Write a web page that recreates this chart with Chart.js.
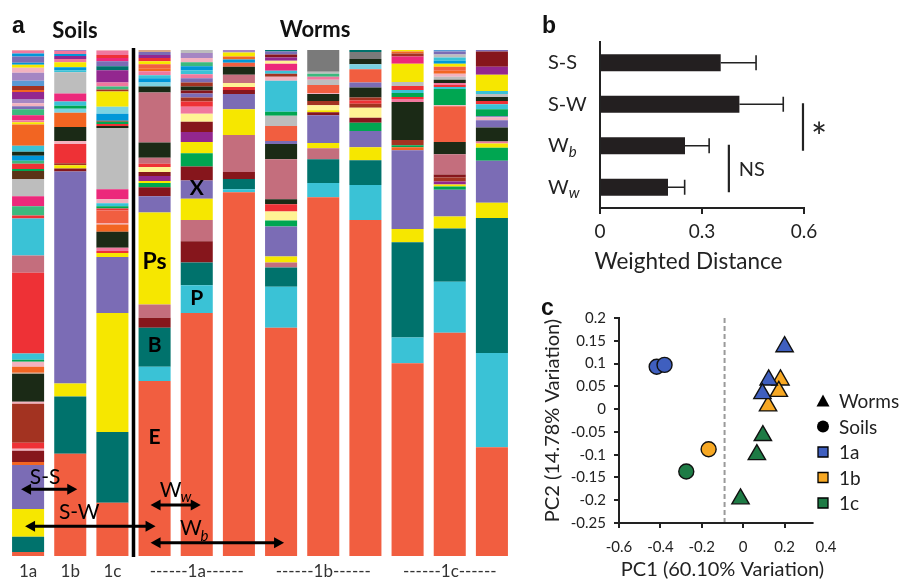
<!DOCTYPE html>
<html>
<head>
<meta charset="utf-8">
<script src="https://cdn.jsdelivr.net/npm/chart.js@4.4.1/dist/chart.umd.min.js"></script>
<style>
  html,body{margin:0;padding:0;background:#fff;}
  body{width:903px;height:579px;position:relative;overflow:hidden;}
  canvas{position:absolute;}
</style>
</head>
<body>
<canvas id="cA" width="520" height="579" style="left:0;top:0"></canvas>
<canvas id="cB" width="383" height="290" style="left:520px;top:0"></canvas>
<canvas id="cC" width="383" height="289" style="left:520px;top:290px"></canvas>
<script>
// ---------------- DATA ----------------
// Panel a: relative abundance (%) per sample, listed from bottom to top as [taxon, %]
const sampleLabels = ['1a','1b','1c','','------1a------','','','------1b------','','','------1c------',''];

const soil1a = [['E',0.8],['B',3.0],['Ps',5.5],['X',8.7],['org',0.6],['mar',2.2],['lpk',0.4],['red',1.2],['brn',7.7],['lpk',0.4],['dk',5.5],['tan',0.2],['org',1.2],['lpk',1.0],['grn',0.4],['P',1.2],['red',16.0],['mau',3.4],['P',7.3],['red',0.6],['mgn',1.8],['mag',2.0],['gry',3.4],['dbr',1.6],['grn',0.4],['red',1.0],['mgn',0.6],['blu',1.0],['dk',0.8],['P',1.2],['org',4.2],['Ps',0.4],['pnk',0.4],['mag',1.0],['mgn',1.2],['X',0.6],['lpk',0.6],['lpu',0.8],['dpu',1.4],['org',0.4],['brn',0.8],['sbl',1.0],['lpu',1.6],['lpk',1.0],['Ps',0.6],['blu',0.4],['X',1.2],['blu',0.6],['pnk',0.6],['tan',0.5]];
const soil1b = [['E',20.2],['B',11.3],['Ps',2.6],['X',41.9],['mar',0.6],['Ps',0.6],['brn',0.4],['red',3.8],['lpk',0.6],['dk',2.8],['org',2.8],['cyn',0.8],['grn',0.6],['P',0.8],['mag',1.6],['gry',4.2],['P',0.4],['blu',0.6],['Ps',1.0],['pnk',0.6],['dpu',0.6],['blu',0.4],['pnk',0.6],['lpu',0.6]];
const soil1c = [['E',10.5],['B',14.0],['Ps',23.5],['X',11.1],['Ps',0.8],['red',0.4],['pnk',0.6],['dk',3.2],['org',1.4],['lpk',0.2],['E',2.6],['red',0.4],['grn',0.4],['P',0.6],['lpk',0.8],['mag',2.0],['gry',12.1],['dk',0.4],['red',0.4],['grn',0.4],['brn',0.2],['blu',1.4],['cyn',1.4],['Ps',3.0],['brn',0.4],['mgn',0.6],['pnk',0.8],['dpu',2.4],['B',0.8],['X',1.0],['mag',0.6],['red',0.6],['pnk',0.8],['lpk',0.6]];
const worm1a1 = [['E',34.6],['P',2.8],['B',7.7],['mar',2.0],['mau',2.6],['Ps',18.2],['X',3.2],['mar',1.8],['grn',0.8],['Ps',0.4],['dpu',1.0],['mar',0.8],['lye',1.0],['red',0.6],['mau',1.2],['dk',3.0],['mau',9.9],['dk',1.2],['cyn',0.8],['blu',0.8],['P',0.6],['pnk',0.8],['org',0.6],['E',0.8],['Ps',0.6],['red',0.6],['dpu',0.6],['X',0.6],['tan',0.8]];
const worm1a2 = [['E',48.0],['P',5.5],['B',4.5],['mar',4.2],['mau',4.2],['Ps',4.2],['X',3.6],['mar',2.8],['grn',2.6],['Ps',2.2],['dpu',2.0],['mar',2.0],['lye',1.6],['pnk',1.4],['red',1.0],['brn',0.8],['X',0.8],['mar',0.6],['dk',0.8],['brn',0.8],['X',0.8],['pnk',0.8],['P',0.8],['blu',0.8],['mgn',0.8],['lpk',0.8],['lpu',1.0],['gry',1.0]];
const worm1a3 = [['E',71.9],['P',0.6],['B',2.0],['mar',1.4],['mau',7.3],['Ps',5.1],['X',3.0],['mar',0.8],['red',0.6],['lye',0.8],['mau',1.6],['dk',1.6],['E',0.8],['blu',0.6],['org',0.6],['Ps',0.8],['lpu',0.6]];
const worm1b1 = [['E',45.1],['P',8.1],['B',3.8],['mau',1.0],['Ps',1.2],['X',5.9],['grn',1.2],['lye',1.8],['red',1.4],['dk',1.0],['mau',7.9],['dk',3.0],['X',0.6],['E',3.0],['gry',2.0],['grn',0.8],['P',6.1],['lpk',0.8],['brn',0.6],['P',0.6],['mag',1.4],['lye',0.6],['dpu',0.6],['mar',0.6],['X',0.6],['B',0.6]];
const worm1b2 = [['E',70.9],['P',2.8],['B',4.7],['mau',2.2],['Ps',1.0],['X',5.5],['mar',0.6],['Ps',0.4],['lye',1.0],['brn',0.8],['dk',1.4],['lpk',0.2],['E',1.6],['gry',1.0],['pnk',0.6],['mgn',0.6],['gry',0.4],['mgy',4.3]];
const worm1b3 = [['E',66.4],['P',6.9],['B',4.9],['Ps',2.6],['X',3.2],['grn',1.6],['mar',1.0],['lye',2.0],['brn',0.8],['red',0.6],['brn',0.6],['dk',2.0],['X',1.0],['E',2.6],['cyn',1.0],['dk',1.0],['mgy',1.4],['B',0.6]];
const worm1c1 = [['E',38.1],['P',5.1],['B',18.8],['Ps',2.6],['X',15.6],['org',0.6],['grn',0.4],['brn',1.0],['dk',7.5],['pnk',0.6],['red',0.4],['grn',0.8],['P',0.6],['red',0.8],['gry',0.8],['Ps',3.6],['mag',1.4],['brn',0.6],['org',0.4],['Ps',0.4]];
const worm1c2 = [['E',44.1],['P',10.1],['B',10.5],['Ps',2.4],['X',5.3],['grn',0.6],['Ps',0.4],['dpu',0.6],['brn',0.8],['mar',0.6],['mau',4.0],['dk',2.4],['E',7.1],['lpk',0.2],['grn',3.2],['P',0.4],['red',0.4],['pnk',0.4],['dk',0.6],['gry',0.6],['lpk',0.6],['org',0.6],['E',0.8],['Ps',0.6],['blu',0.6],['P',0.6],['gry',0.6],['X',0.6],['sbl',0.6]];
const worm1c3 = [['E',21.5],['P',18.6],['B',26.7],['Ps',3.0],['X',8.3],['grn',2.6],['Ps',0.8],['pnk',0.4],['dk',2.8],['X',1.4],['lpk',0.6],['X',0.2],['grn',1.4],['P',1.0],['red',0.6],['dk',0.8],['gry',0.6],['P',0.6],['Ps',3.2],['dpu',1.6],['mar',3.0],['X',0.4],['red',0.2]];

// Panel b: weighted UniFrac distances
const distLabels = ['S-S','S-W','Wb','Ww'];
const distMean = [0.355, 0.41, 0.25, 0.20];
const distErr  = [0.104, 0.129, 0.071, 0.049];
const distTicks = [0, 0.3, 0.6];

// Panel c: PCoA coordinates
const soil1aPC = [{x:-0.418,y:0.093},{x:-0.38,y:0.097}];
const soil1bPC = [{x:-0.167,y:-0.088}];
const soil1cPC = [{x:-0.275,y:-0.137}];
const worm1aPC = [{x:0.20,y:0.137},{x:0.123,y:0.064},{x:0.093,y:0.034}];
const worm1bPC = [{x:0.18,y:0.064},{x:0.172,y:0.039},{x:0.12,y:0.007}];
const worm1cPC = [{x:0.095,y:-0.058},{x:0.066,y:-0.10},{x:-0.013,y:-0.197}];
const dividerPC1 = -0.09;

// ---------------- STYLE ----------------
const palette = {
  E:'#F15E40', P:'#3AC2D6', B:'#00726C', Ps:'#F6E700', X:'#7B6CB5',
  mar:'#86161C', mau:'#C46E7D', dk:'#1B2A16', gry:'#BDBDBD', mgy:'#7A7A7A',
  mag:'#EC297B', grn:'#00A651', mgn:'#3CB97E', org:'#F26522', red:'#EE3136',
  brn:'#A33321', dbr:'#5B3417', dpu:'#93278F', lye:'#FFF394', blu:'#0097D8',
  lpu:'#A586C3', sbl:'#5A9AD5', lpk:'#F3B2BF', pnk:'#F0789E', tan:'#D8A589', cyn:'#7AD3E2'
};
const FONT = "Lato, 'Open Sans', sans-serif";
const INK = '#222';
const C1A = '#3F5FBF', C1B = '#F7A823', C1C = '#1E7B45';

// draw text centred on its actual glyph box
function glyphCentered(ctx, txt, cx, cy) {
  ctx.textAlign = 'left'; ctx.textBaseline = 'alphabetic';
  const m = ctx.measureText(txt);
  const w = m.actualBoundingBoxRight + m.actualBoundingBoxLeft;
  const h = m.actualBoundingBoxAscent + m.actualBoundingBoxDescent;
  ctx.fillText(txt, cx - w / 2 + m.actualBoundingBoxLeft, cy + h / 2 - m.actualBoundingBoxDescent);
}

// ---------------- PANEL A ----------------
const samples = [soil1a, soil1b, soil1c, worm1a1, worm1a2, worm1a3, worm1b1, worm1b2, worm1b3, worm1c1, worm1c2, worm1c3];
const nLayers = Math.max(...samples.map(s => s.length));
const layerSets = [];
for (let k = 0; k < nLayers; k++) {
  layerSets.push({
    data: samples.map(s => s[k] ? s[k][1] : 0),
    backgroundColor: samples.map(s => s[k] ? palette[s[k][0]] : 'rgba(0,0,0,0)'),
    borderWidth: 0
  });
}

const taxonTags = [
  {text:'Ps', bar:3, at:58.1, size:23},
  {text:'B',  bar:3, at:41.7, size:21},
  {text:'E',  bar:3, at:23.5, size:21},
  {text:'X',  bar:4, at:72.7, size:21},
  {text:'P',  bar:4, at:51.0, size:21}
];
const distArrows = [
  {from:0, to:1, d0:-7, d1:7, at:13.2},
  {from:0, to:3, d0:-3, d1:1, at:5.9},
  {from:3, to:4, d0:-4, d1:4, at:10.1},
  {from:3, to:6, d0:-4, d1:3, at:2.6}
];
const arrowTexts = [
  {main:'S-S', bar:0, dx:17, at:15.6},
  {main:'S-W', bar:1, dx:9, at:8.7},
  {main:'W', sub:'w', bar:3, dx:16, at:13.0},
  {main:'W', sub:'b', bar:4, dx:-6, at:5.4}
];

function arrowHead(ctx, x, y, dir) {
  ctx.beginPath();
  ctx.moveTo(x, y);
  ctx.lineTo(x - dir * 10, y - 5.5);
  ctx.lineTo(x - dir * 10, y + 5.5);
  ctx.closePath();
  ctx.fill();
}

const panelAExtras = {
  id: 'panelAExtras',
  afterDatasetsDraw(chart) {
    const {ctx, scales: {x, y}} = chart;
    ctx.save();
    const sx = (x.getPixelForValue(2) + x.getPixelForValue(3)) / 2;
    ctx.strokeStyle = '#000'; ctx.lineWidth = 3.5;
    ctx.beginPath(); ctx.moveTo(sx, y.top - 2); ctx.lineTo(sx, y.bottom + 1); ctx.stroke();
    ctx.fillStyle = '#000'; ctx.textAlign = 'center'; ctx.textBaseline = 'middle';
    taxonTags.forEach(t => {
      ctx.font = `bold ${t.size}px ${FONT}`;
      ctx.fillText(t.text, x.getPixelForValue(t.bar), y.getPixelForValue(t.at));
    });
    ctx.strokeStyle = '#000'; ctx.fillStyle = '#000'; ctx.lineWidth = 3;
    distArrows.forEach(a => {
      const x0 = x.getPixelForValue(a.from) + a.d0;
      const x1 = x.getPixelForValue(a.to) + a.d1;
      const yy = y.getPixelForValue(a.at);
      ctx.beginPath(); ctx.moveTo(x0 + 8, yy); ctx.lineTo(x1 - 8, yy); ctx.stroke();
      arrowHead(ctx, x0, yy, -1);
      arrowHead(ctx, x1, yy, 1);
    });
    ctx.textBaseline = 'middle'; ctx.textAlign = 'left';
    arrowTexts.forEach(t => {
      const cx = x.getPixelForValue(t.bar) + t.dx;
      const cy = y.getPixelForValue(t.at);
      ctx.font = `21px ${FONT}`;
      const w = ctx.measureText(t.main).width;
      ctx.fillText(t.main, cx - w / 2, cy);
      if (t.sub) {
        ctx.font = `italic 15px ${FONT}`;
        ctx.fillText(t.sub, cx + w / 2 - 1, cy + 7);
      }
    });
    ctx.textBaseline = 'alphabetic';
    ctx.font = `bold 23px 'Liberation Sans', Arial, sans-serif`;
    ctx.textAlign = 'left';
    ctx.fillStyle = '#111';
    ctx.fillText('a', 12, 33);
    ctx.font = `bold 22px ${FONT}`;
    ctx.textAlign = 'center';
    ctx.fillText('Soils', 75, 38);
    ctx.fillText('Worms', 315, 37);
    ctx.restore();
  }
};

new Chart(document.getElementById('cA'), {
  type: 'bar',
  data: {labels: sampleLabels, datasets: layerSets},
  options: {
    responsive: false, animation: false,
    layout: {padding: {left: 7, right: 7, top: 50, bottom: 0}},
    plugins: {legend: {display: false}, tooltip: {enabled: false}},
    datasets: {bar: {categoryPercentage: 1, barPercentage: 0.76}},
    scales: {
      x: {
        stacked: true,
        grid: {display: false, drawTicks: false}, border: {display: false},
        ticks: {autoSkip: false, maxRotation: 0, minRotation: 0, padding: 5, color: '#333', font: {family: FONT, size: 17}},
        afterFit(s) { s.height = 23; }
      },
      y: {stacked: true, display: false, min: 0, max: 100}
    }
  },
  plugins: [panelAExtras]
});

// ---------------- PANEL B ----------------
const sigMarks = [
  {from:1, to:2, at:0.597, text:'*', dx:16, dy:0, size:38},
  {from:2, to:3, at:0.379, text:'NS', dx:23, dy:0, size:20}
];
const distTitle = 'Weighted Distance';

const panelBExtras = {
  id: 'panelBExtras',
  afterDatasetsDraw(chart) {
    const {ctx, scales: {x, y}} = chart;
    const meta = chart.getDatasetMeta(0);
    ctx.save();
    ctx.strokeStyle = INK; ctx.lineWidth = 1.6;
    meta.data.forEach((bar, i) => {
      const xe = x.getPixelForValue(distMean[i] + distErr[i]);
      ctx.beginPath();
      ctx.moveTo(bar.x, bar.y); ctx.lineTo(xe, bar.y);
      ctx.moveTo(xe, bar.y - 7.5); ctx.lineTo(xe, bar.y + 7.5);
      ctx.stroke();
    });
    ctx.lineWidth = 2.2;
    ctx.fillStyle = INK;
    sigMarks.forEach(s => {
      const xp = x.getPixelForValue(s.at);
      const y0 = y.getPixelForValue(s.from) - 1;
      const y1 = y.getPixelForValue(s.to) + 5;
      ctx.beginPath(); ctx.moveTo(xp, y0); ctx.lineTo(xp, y1); ctx.stroke();
      ctx.font = `${s.size}px ${FONT}`;
      glyphCentered(ctx, s.text, xp + s.dx, (y0 + y1) / 2 + s.dy);
    });
    // category labels with subscripts
    ctx.textBaseline = 'middle'; ctx.textAlign = 'left';
    distLabels.forEach((lab, i) => {
      const cy = y.getPixelForValue(i);
      const lx = 28;
      ctx.font = `20px ${FONT}`;
      if (lab[0] === 'W') {
        ctx.fillText('W', lx, cy);
        const w = ctx.measureText('W').width;
        ctx.font = `italic 15px ${FONT}`;
        ctx.fillText(lab.slice(1), lx + w, cy + 6);
      } else {
        ctx.fillText(lab, lx, cy);
      }
    });
    // axis title
    ctx.font = `22.5px ${FONT}`;
    ctx.textAlign = 'center'; ctx.textBaseline = 'middle';
    ctx.fillText(distTitle, x.getPixelForValue(0.26), 262);
    ctx.font = `bold 23px 'Liberation Sans', Arial, sans-serif`;
    ctx.textBaseline = 'alphabetic'; ctx.textAlign = 'left';
    ctx.fillStyle = '#111';
    ctx.fillText('b', 22, 33);
    ctx.restore();
  }
};

new Chart(document.getElementById('cB'), {
  type: 'bar',
  data: {labels: distLabels, datasets: [{data: distMean, backgroundColor: '#231F20', categoryPercentage: 1, barPercentage: 0.41}]},
  options: {
    indexAxis: 'y',
    responsive: false, animation: false,
    layout: {padding: {left: 0, right: 99, top: 42, bottom: 0}},
    plugins: {legend: {display: false}, tooltip: {enabled: false}},
    scales: {
      x: {
        min: 0, max: 0.6,
        afterBuildTicks(s) { s.ticks = distTicks.map(v => ({value: v})); },
        ticks: {padding: 6, color: INK, font: {family: FONT, size: 19}, callback: v => String(v)},
        grid: {drawOnChartArea: false, color: INK, lineWidth: 2, tickLength: 6},
        border: {color: INK, width: 2},
        afterFit(s) { s.height = 82; }
      },
      y: {
        ticks: {display: false},
        grid: {display: false},
        border: {color: INK, width: 2},
        afterFit(s) { s.width = 80; }
      }
    }
  },
  plugins: [panelBExtras]
});

// ---------------- PANEL C ----------------
const legendC = [
  {label:'Worms', style:'triangle', color:'#000'},
  {label:'Soils', style:'circle', color:'#000'},
  {label:'1a', style:'rect', color:C1A},
  {label:'1b', style:'rect', color:C1B},
  {label:'1c', style:'rect', color:C1C}
];
const xAxisEnd = 0.34;

const panelCExtras = {
  id: 'panelCExtras',
  afterDraw(chart) {
    const {ctx, scales: {x, y}} = chart;
    ctx.save();
    ctx.strokeStyle = INK; ctx.lineWidth = 2;
    ctx.beginPath();
    ctx.moveTo(x.getPixelForValue(-0.6) - 1, y.bottom);
    ctx.lineTo(x.getPixelForValue(xAxisEnd), y.bottom);
    ctx.stroke();
    const lx = 303, ly0 = 111, step = 25.5;
    ctx.font = `19px ${FONT}`;
    ctx.textBaseline = 'middle'; ctx.textAlign = 'left';
    legendC.forEach((it, i) => {
      const cy = ly0 + i * step;
      ctx.fillStyle = it.color; ctx.strokeStyle = '#000'; ctx.lineWidth = 1.3;
      ctx.beginPath();
      if (it.style === 'triangle') {
        ctx.moveTo(lx, cy - 6.5); ctx.lineTo(lx + 6.5, cy + 5.5); ctx.lineTo(lx - 6.5, cy + 5.5); ctx.closePath(); ctx.fill();
      } else if (it.style === 'circle') {
        ctx.arc(lx, cy, 6, 0, Math.PI * 2); ctx.fill();
      } else {
        ctx.rect(lx - 5, cy - 5, 10, 10); ctx.fill(); ctx.stroke();
      }
      ctx.fillStyle = INK;
      ctx.fillText(it.label, lx + 16, cy + 1);
    });
    ctx.font = `bold 23px 'Liberation Sans', Arial, sans-serif`;
    ctx.textBaseline = 'alphabetic';
    ctx.fillStyle = '#111';
    ctx.fillText('c', 21, 25);
    ctx.restore();
  }
};

const ptStyle = (data, shape, color) => ({
  data, pointStyle: shape, backgroundColor: color, borderColor: '#111', borderWidth: 1.4,
  pointRadius: shape === 'triangle' ? 10 : 7.5, pointHoverRadius: 0
});

new Chart(document.getElementById('cC'), {
  type: 'scatter',
  data: {datasets: [
    ptStyle(soil1aPC, 'circle', C1A),
    ptStyle(soil1bPC, 'circle', C1B),
    ptStyle(soil1cPC, 'circle', C1C),
    ptStyle(worm1aPC, 'triangle', C1A),
    ptStyle(worm1bPC, 'triangle', C1B),
    ptStyle(worm1cPC, 'triangle', C1C),
    {type: 'line', order: 10, data: [{x: dividerPC1, y: 0.2}, {x: dividerPC1, y: -0.25}],
     borderColor: '#9A9A9A', borderWidth: 2, borderDash: [5, 3], pointRadius: 0, fill: false}
  ]},
  options: {
    responsive: false, animation: false,
    layout: {padding: {left: 0, right: 77, top: 28, bottom: 0}},
    plugins: {legend: {display: false}, tooltip: {enabled: false}},
    scales: {
      x: {
        type: 'linear', min: -0.6, max: 0.4,
        ticks: {stepSize: 0.2, padding: 10, color: INK, font: {family: FONT, size: 15}, callback: v => String(Math.round(v * 100) / 100)},
        grid: {drawOnChartArea: false, tickLength: 5, lineWidth: 2, color: c => (c.tick && c.tick.value > xAxisEnd) ? 'rgba(0,0,0,0)' : INK},
        border: {display: false},
        title: {display: true, text: 'PC1 (60.10% Variation)', color: INK, font: {family: FONT, size: 20, lineHeight: 1}, padding: {top: 0, bottom: -1}},
        afterFit(s) { s.height = 56; }
      },
      y: {
        min: -0.25, max: 0.2,
        ticks: {stepSize: 0.05, padding: 8, color: INK, font: {family: FONT, size: 15}, callback: v => String(Math.round(v * 100) / 100)},
        grid: {drawOnChartArea: false, tickLength: 5, lineWidth: 2, color: INK},
        border: {color: INK, width: 2},
        title: {display: true, text: 'PC2 (14.78% Variation)', color: INK, font: {family: FONT, size: 20, lineHeight: 1}, padding: {top: 23, bottom: 0}},
        afterFit(s) { s.width = 99; }
      }
    }
  },
  plugins: [panelCExtras]
});
</script>
</body>
</html>
